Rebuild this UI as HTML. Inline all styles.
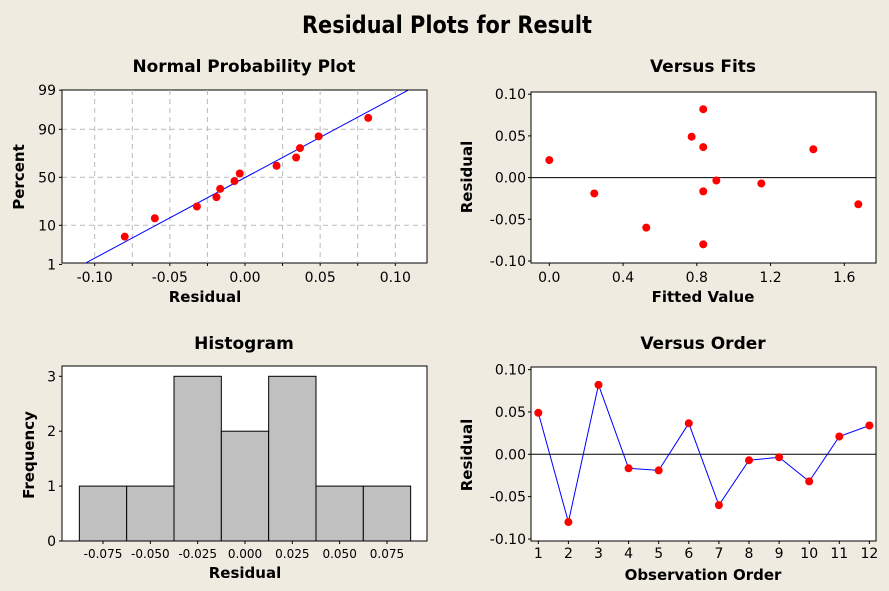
<!DOCTYPE html>
<html><head><meta charset="utf-8"><style>
html,body{margin:0;padding:0;background:#f0ebe1;}
svg{display:block;font-family:"DejaVu Sans","Liberation Sans",sans-serif;}
.tk{font-size:14px;fill:#000;}
.tks{font-size:12px;fill:#000;}
.ax{font-size:15px;font-weight:bold;fill:#000;}
.st{font-size:17px;font-weight:bold;fill:#000;}
</style></head><body>
<svg id="s" width="889" height="591" viewBox="0 0 889 591">
<rect width="889" height="591" fill="#f0ebe1"/>
<text x="447" y="33" text-anchor="middle" font-size="24" font-weight="bold" textLength="290" lengthAdjust="spacingAndGlyphs">Residual Plots for Result</text>
<text x="244" y="72" text-anchor="middle" class="st" textLength="223" lengthAdjust="spacingAndGlyphs">Normal Probability Plot</text>
<text x="703" y="72" text-anchor="middle" class="st">Versus Fits</text>
<text x="244" y="349" text-anchor="middle" class="st">Histogram</text>
<text x="703" y="349" text-anchor="middle" class="st">Versus Order</text>
<g id="g"></g>
</svg>
<script>
const residuals=[0.049,-0.080,0.082,-0.0165,-0.019,0.0366,-0.060,-0.007,-0.0035,-0.032,0.021,0.034];
const fitted=[0.772,0.835,0.835,0.835,0.244,0.835,0.526,1.15,0.906,1.676,0.0,1.432];
const histCounts=[1,1,3,2,3,1,1];
const histCenters=[-0.075,-0.050,-0.025,0.000,0.025,0.050,0.075];
const nppXTicks=["-0.10","-0.05","0.00","0.05","0.10"];
const nppYTicks=[1,10,50,90,99];
const resTicks=["0.10","0.05","0.00","-0.05","-0.10"];
const fitTicks=["0.0","0.4","0.8","1.2","1.6"];
const freqTicks=[0,1,2,3];

const NS="http://www.w3.org/2000/svg";
const G=document.getElementById('g');
function mk(tag,at,txt){const e=document.createElementNS(NS,tag);for(const k in at)e.setAttribute(k,at[k]);if(txt!==undefined)e.textContent=txt;G.appendChild(e);return e;}
function invNorm(p){const a=[-39.6968302866538,220.946098424521,-275.928510446969,138.357751867269,-30.6647980661472,2.50662827745924],b=[-54.4760987982241,161.585836858041,-155.698979859887,66.8013118877197,-13.2806815528857],c=[-0.00778489400243029,-0.322396458041136,-2.40075827716184,-2.54973253934373,4.37466414146317,2.93816398269878],d=[0.00778469570904146,0.32246712907004,2.445134137143,3.75440866190742];const pl=0.02425;let q,r;if(p<pl){q=Math.sqrt(-2*Math.log(p));return(((((c[0]*q+c[1])*q+c[2])*q+c[3])*q+c[4])*q+c[5])/((((d[0]*q+d[1])*q+d[2])*q+d[3])*q+1);}if(p>1-pl){q=Math.sqrt(-2*Math.log(1-p));return-(((((c[0]*q+c[1])*q+c[2])*q+c[3])*q+c[4])*q+c[5])/((((d[0]*q+d[1])*q+d[2])*q+d[3])*q+1);}q=p-0.5;r=q*q;return(((((a[0]*r+a[1])*r+a[2])*r+a[3])*r+a[4])*r+a[5])*q/(((((b[0]*r+b[1])*r+b[2])*r+b[3])*r+b[4])*r+1);}
function box(x0,y0,x1,y1,name){const e=mk('rect',{x:x0,y:y0,width:x1-x0,height:y1-y0,fill:'#fff',stroke:'#000','stroke-width':1});}
function dot(x,y,name){const e=mk('circle',{cx:x,cy:y,r:4,fill:'#f00'});}
function txt(x,y,s,cls,anchor,name,rot){const at={x:x,y:y,class:cls,'text-anchor':anchor};if(rot)at.transform='rotate(-90 '+x+' '+y+')';const e=mk('text',at,s);}
function ln(x1,y1,x2,y2,st,w,dash,name){const at={x1:x1,y1:y1,x2:x2,y2:y2,stroke:st,'stroke-width':w||1};if(dash)at['stroke-dasharray']=dash;const e=mk('line',at);}

// ---------- Normal probability plot ----------
(function(){
const L=62,R=427,T=90,B=263;
const X=v=>94.7+(v+0.10)/0.05*75.15;
const Z=z=>177.3-z*37.45;
const Y=p=>Z(invNorm(p/100));
box(L,T,R,B,'npp-plot-area');
for(let v=-0.10;v<=0.1001;v+=0.025){ln(X(v),T,X(v),B,'#bbb',1,'5,4','npp-vgrid');ln(X(v),B,X(v),B+3,'#000',1,null,'npp-xtick');}
nppYTicks.forEach(p=>{if(p!==1&&p!==99)ln(L,Y(p),R,Y(p),'#bbb',1,'5,4','npp-hgrid');ln(L-3,Y(p),L,Y(p),'#000',1,null,'npp-ytick');txt(L-6,Y(p)+5,String(p),'tk','end','npp-ytick-label');});
nppXTicks.forEach(s=>txt(X(parseFloat(s)),282,s,'tk','middle','npp-xtick-label'));
const n=residuals.length,mean=residuals.reduce((a,b)=>a+b,0)/n;
const sd=Math.sqrt(residuals.reduce((a,b)=>a+(b-mean)*(b-mean),0)/(n-1));
// fitted line
const zl=invNorm(0.01),zh=invNorm(0.99);
let xa=mean+zl*sd,xb=mean+zh*sd;
const clip=mk('clipPath',{id:'nppclip'});const cr=document.createElementNS(NS,'rect');cr.setAttribute('x',L);cr.setAttribute('y',T);cr.setAttribute('width',R-L);cr.setAttribute('height',B-T);clip.appendChild(cr);
const fl=mk('line',{x1:X(xa),y1:Z(zl),x2:X(xb),y2:Z(zh),stroke:'#00f','stroke-width':1,'clip-path':'url(#nppclip)'});


const sorted=residuals.slice().sort((a,b)=>a-b);
sorted.forEach((v,i)=>dot(X(v),Y((i+1-0.3)/(n+0.4)*100),'npp-point'));
ln(L,T,L,B,'#000',1,null,'npp-y-axis');
txt(205,302,'Residual','ax','middle','npp-x-axis-title');
txt(24,177,'Percent','ax','middle','npp-y-axis-title',true);
})();

// ---------- Versus Fits ----------
(function(){
const L=531,R=876,T=92,B=263;
const X=v=>549.3+v/0.4*73.75;
const Y=v=>177.6-v/0.05*41.7;
box(L,T,R,B,'fits-plot-area');
resTicks.forEach(s=>{const v=parseFloat(s);ln(L-3,Y(v),L,Y(v),'#000',1,null,'fits-ytick');txt(L-5,Y(v)+5,s,'tk','end','fits-ytick-label');});
fitTicks.forEach(s=>{const v=parseFloat(s);ln(X(v),B,X(v),B+3,'#000',1,null,'fits-xtick');txt(X(v),282,s,'tk','middle','fits-xtick-label');});
ln(L,Y(0),R,Y(0),'#000',1,null,'fits-zero-line');
fitted.forEach((f,i)=>dot(X(f),Y(residuals[i]),'fits-point'));
txt(703,302,'Fitted Value','ax','middle','fits-x-axis-title');
txt(472,177,'Residual','ax','middle','fits-y-axis-title',true);
})();

// ---------- Histogram ----------
(function(){
const L=62,R=427,T=366,B=541;
const X=v=>245+v/0.025*47.33;
const Y=c=>B-c*54.9;
box(L,T,R,B,'histogram-plot-area');
histCounts.forEach((c,i)=>{const x0=X(histCenters[i]-0.0125),x1=X(histCenters[i]+0.0125);const e=mk('rect',{x:x0,y:Y(c),width:x1-x0,height:B-Y(c),fill:'#c0c0c0',stroke:'#000','stroke-width':1});});
freqTicks.forEach(c=>{ln(L-3,Y(c),L,Y(c),'#000',1,null,'hist-ytick');txt(L-6,Y(c)+5,String(c),'tk','end','hist-ytick-label');});
histCenters.forEach(v=>{ln(X(v),B,X(v),B+3,'#000',1,null,'hist-xtick');txt(X(v),558,v.toFixed(3),'tks','middle','hist-xtick-label');});
txt(245,578,'Residual','ax','middle','hist-x-axis-title');
txt(34,455,'Frequency','ax','middle','hist-y-axis-title',true);
})();

// ---------- Versus Order ----------
(function(){
const L=531,R=876,T=367,B=541;
const X=o=>538.3+(o-1)*30.1;
const Y=v=>454.3-v/0.05*42.35;
box(L,T,R,B,'order-plot-area');
resTicks.forEach(s=>{const v=parseFloat(s);ln(L-3,Y(v),L,Y(v),'#000',1,null,'order-ytick');txt(L-5,Y(v)+5,s,'tk','end','order-ytick-label');});
residuals.forEach((v,i)=>{ln(X(i+1),B,X(i+1),B+3,'#000',1,null,'order-xtick');txt(X(i+1),558,String(i+1),'tk','middle','order-xtick-label');});
ln(L,Y(0),R,Y(0),'#000',1,null,'order-zero-line');
const pl=mk('polyline',{points:residuals.map((v,i)=>X(i+1)+','+Y(v)).join(' '),fill:'none',stroke:'#00f','stroke-width':1});


residuals.forEach((v,i)=>dot(X(i+1),Y(v),'order-point'));
txt(703,580,'Observation Order','ax','middle','order-x-axis-title');
txt(472,455,'Residual','ax','middle','order-y-axis-title',true);
})();
</script>
</body></html>
